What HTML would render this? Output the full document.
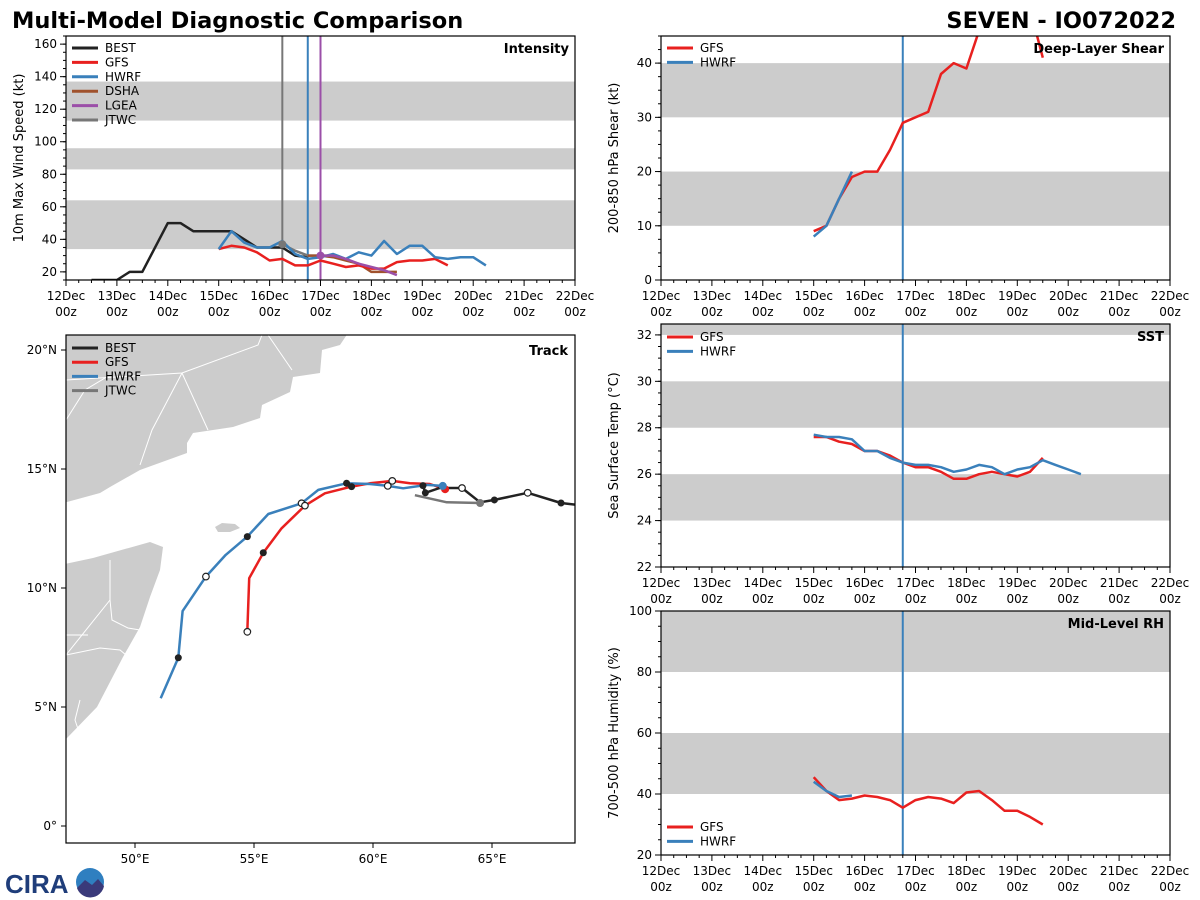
<!DOCTYPE html>
<html><head><meta charset="utf-8"><style>
html,body{margin:0;padding:0;background:#fff;}
svg{display:block;font-family:"DejaVu Sans","Liberation Sans",sans-serif;}
</style></head><body>
<svg id="fig" width="1200" height="900" viewBox="0 0 1200 900" xmlns="http://www.w3.org/2000/svg">
<text x="12" y="28" font-size="22.5" font-weight="bold">Multi-Model Diagnostic Comparison</text>
<text x="1176" y="28" font-size="22.5" font-weight="bold" text-anchor="end">SEVEN - IO072022</text>
<g>
<text x="5" y="893" font-size="26" font-weight="bold" fill="#1f3d7a" font-family="Liberation Sans, sans-serif">CIRA</text>
<circle cx="90" cy="882" r="14" fill="#2f7fc0"/><path d="M77 888 L85 880 L92 885 L98 879 L104 886 A14 14 0 0 1 77 888Z" fill="#3a3a7a"/>
</g>
</svg>
<script>
// ---- Data (days since 12 Dec 00z) ----
const dayTicks=["12Dec","13Dec","14Dec","15Dec","16Dec","17Dec","18Dec","19Dec","20Dec","21Dec","22Dec"];
const intBestT=[0.5,1,1.25,1.5,2,2.25,2.5,3,3.25,3.5,3.75,4.25,4.5,4.75];
const intBestV=[15,15,20,20,50,50,45,45,45,40,35,35,30,29];
const intGfsT=[3,3.25,3.5,3.75,4,4.25,4.5,4.75,5,5.25,5.5,5.75,6,6.25,6.5,6.75,7,7.25,7.5];
const intGfsV=[34,36,35,32,27,28,24,24,27,25,23,24,22,22,26,27,27,28,24];
const intHwrfT=[3,3.25,3.5,3.75,4,4.25,4.5,4.75,5,5.25,5.5,5.75,6,6.25,6.5,6.75,7,7.25,7.5,7.75,8,8.25];
const intHwrfV=[34,45,38,35,35,39,31,28,29,31,28,32,30,39,31,36,36,29,28,29,29,24];
const intDshaT=[4.75,5,5.25,5.5,5.75,6,6.25,6.5];
const intDshaV=[30,30,29,27,25,20,20,20];
const intLgeaT=[5,5.25,5.5,5.75,6,6.25,6.5];
const intLgeaV=[30,30,28,25,23,21,18];
const intJtwcT=[4.25,4.5,4.75,5,5.25];
const intJtwcV=[37,33,30,30,30];
const shGfsT=[3,3.25,3.5,3.75,4,4.25,4.5,4.75,5,5.25,5.5,5.75,6,6.25,6.5,7,7.25,7.5];
const shGfsV=[9,10,15,19,20,20,24,29,30,31,38,40,39,46,52,55,50,41];
const shHwrfT=[3,3.25,3.5,3.75];
const shHwrfV=[8,10,15,20];
const sstGfsT=[3,3.25,3.5,3.75,4,4.25,4.5,4.75,5,5.25,5.5,5.75,6,6.25,6.5,6.75,7,7.25,7.5];
const sstGfsV=[27.6,27.6,27.4,27.3,27.0,27.0,26.8,26.5,26.3,26.3,26.1,25.8,25.8,26.0,26.1,26.0,25.9,26.1,26.7];
const sstHwrfT=[3,3.25,3.5,3.75,4,4.25,4.5,4.75,5,5.25,5.5,5.75,6,6.25,6.5,6.75,7,7.25,7.5,7.75,8,8.25];
const sstHwrfV=[27.7,27.6,27.6,27.5,27.0,27.0,26.7,26.5,26.4,26.4,26.3,26.1,26.2,26.4,26.3,26.0,26.2,26.3,26.6,26.4,26.2,26.0];
const rhGfsT=[3,3.25,3.5,3.75,4,4.25,4.5,4.75,5,5.25,5.5,5.75,6,6.25,6.5,6.75,7,7.25,7.5];
const rhGfsV=[45.5,41,38,38.5,39.5,39,38,35.5,38,39,38.5,37,40.5,41,38,34.5,34.5,32.5,30];
const rhHwrfT=[3,3.25,3.5,3.75];
const rhHwrfV=[44,41,39,39.5];
const trBestLon=[62.1,62.2,62.8,63.74,64.5,65.1,66.5,67.9,68.5];
const trBestLat=[14.3,14.0,14.2,14.2,13.6,13.7,14.0,13.57,13.5];
const trGfsLon=[63.03,62.39,61.55,60.81,59.87,59.10,57.98,57.14,56.16,55.39,54.80,54.72];
const trGfsLat=[14.15,14.37,14.40,14.50,14.40,14.26,13.98,13.46,12.51,11.48,10.41,8.16];
const trHwrfLon=[62.93,62.26,61.27,60.62,59.87,58.89,57.70,57.0,55.60,54.72,53.81,52.98,52.0,51.82,51.08];
const trHwrfLat=[14.29,14.33,14.19,14.29,14.37,14.40,14.12,13.56,13.11,12.16,11.39,10.48,9.03,7.07,5.37];
const trJtwcLon=[61.76,63.1,64.5];
const trJtwcLat=[13.9,13.6,13.57];
const openMarksLon=[60.62,57.0,52.98,60.81,57.14,54.72,63.74,66.5];
const openMarksLat=[14.29,13.56,10.48,14.50,13.46,8.16,14.2,14.0];
const fillMarksLon=[58.89,54.72,51.82,62.1,59.10,55.39,62.2,65.1,67.9];
const fillMarksLat=[14.40,12.16,7.07,14.3,14.26,11.48,14.0,13.7,13.57];

const C={BEST:"#222",GFS:"#e8201f",HWRF:"#3a80bb",DSHA:"#a0522d",LGEA:"#9b4fa8",JTWC:"#777"};
const NS="http://www.w3.org/2000/svg";
const svg=document.getElementById('fig');
function mk(tag,attrs,parent){const e=document.createElementNS(NS,tag);for(const k in attrs)e.setAttribute(k,attrs[k]);(parent||svg).appendChild(e);return e;}
function txt(x,y,s,attrs,parent){const e=mk('text',Object.assign({x:x,y:y,'font-size':12},attrs||{}),parent);e.textContent=s;return e;}

function panel(name,x0,y0,x1,y1,ymin,ymax,bands,yticks,yminor,ylabel,title,clipId){
  const g=mk('g',{});
  
  
  const sx=d=>x0+d*(x1-x0)/10, sy=v=>y1-(v-ymin)*(y1-y0)/(ymax-ymin);
  mk('rect',{x:x0,y:y0,width:x1-x0,height:y1-y0,fill:'#fff'},g);
  const cp=mk('clipPath',{id:clipId},g);mk('rect',{x:x0,y:y0,width:x1-x0,height:y1-y0},cp);
  const plot=mk('g',{'clip-path':'url(#'+clipId+')'},g);
  bands.forEach(b=>{const r=mk('rect',{x:x0,y:sy(Math.min(b[1],ymax)),width:x1-x0,height:sy(b[0])-sy(Math.min(b[1],ymax)),fill:'#cccccc'},plot);
    
    });
  for(let i=0;i<=40;i++){const x=x0+i*(x1-x0)/40;mk('line',{x1:x,x2:x,y1:y1,y2:y1+(i%4==0?6:3),stroke:'#000','stroke-width':1},g);}
  dayTicks.forEach((d,i)=>{const x=sx(i);
    const t=txt(x,y1+20,d,{'text-anchor':'middle'},g);
    
    
    txt(x,y1+36,'00z',{'text-anchor':'middle'},g);});
  for(let v=ymin;v<=ymax+0.001;v+=yminor){const y=sy(v);if(y<y0-0.5)continue;mk('line',{x1:x0,x2:x0-3,y1:y,y2:y,stroke:'#000'},g);}
  yticks.forEach(v=>{const y=sy(v);mk('line',{x1:x0,x2:x0-6,y1:y,y2:y,stroke:'#000'},g);
    const t=txt(x0-9,y+4,String(v),{'text-anchor':'end'},g);
    
    });
  const yl=txt(0,0,ylabel,{'text-anchor':'middle','font-size':13,transform:`translate(${x0-43},${(y0+y1)/2}) rotate(-90)`},g);
  
  
  const tt=txt(x1-6,y0+17,title,{'text-anchor':'end','font-size':13,'font-weight':'bold'},g);
  
  
  return {g,plot,sx,sy,x0,y0,x1,y1};
}
function series(P,T,V,color,name){
  const pts=T.map((t,i)=>P.sx(t).toFixed(1)+','+P.sy(V[i]).toFixed(1)).join(' ');
  const l=mk('polyline',{points:pts,fill:'none',stroke:color,'stroke-width':2.5,'stroke-linejoin':'round'},P.plot);
  
  
}
function vline(P,d,color,name){const x=P.sx(d);const l=mk('line',{x1:x,x2:x,y1:P.y0,y2:P.y1,stroke:color,'stroke-width':2},P.plot);
  
  }
function legend(P,x,y,names){
  const g=mk('g',{},P.g);
  
  
  names.forEach((n,i)=>{const yy=y+i*14.4;mk('line',{x1:x,x2:x+26,y1:yy,y2:yy,stroke:C[n],'stroke-width':3},g);
    const t=txt(x+33,yy+4,n,{'font-size':12},g);
    
    });
}
function frame(P){mk('rect',{x:P.x0,y:P.y0,width:P.x1-P.x0,height:P.y1-P.y0,fill:'none',stroke:'#000','stroke-width':1.2},P.g);}

const PI=panel('intensity-panel',66,36,575,280,15,165,[[34,64],[83,96],[113,137]],[20,40,60,80,100,120,140,160],5,'10m Max Wind Speed (kt)','Intensity','ci');
vline(PI,4.25,'#777','jtwc-init-line');vline(PI,4.75,'#3a80bb','hwrf-init-line');vline(PI,5.0,'#9b4fa8','lgea-init-line');
series(PI,intBestT,intBestV,C.BEST,'best-intensity');
series(PI,intJtwcT,intJtwcV,C.JTWC,'jtwc-intensity');
series(PI,intDshaT,intDshaV,C.DSHA,'dsha-intensity');
series(PI,intGfsT,intGfsV,C.GFS,'gfs-intensity');
series(PI,intHwrfT,intHwrfV,C.HWRF,'hwrf-intensity');
series(PI,intLgeaT,intLgeaV,C.LGEA,'lgea-intensity');
mk('circle',{cx:PI.sx(4.25),cy:PI.sy(37),r:4,fill:'#777'},PI.plot);
mk('circle',{cx:PI.sx(5),cy:PI.sy(30),r:4,fill:C.LGEA},PI.plot);
legend(PI,72,48,['BEST','GFS','HWRF','DSHA','LGEA','JTWC']);frame(PI);

const PS=panel('shear-panel',661,36,1170,280,0,45,[[10,20],[30,40]],[0,10,20,30,40],2.5,'200-850 hPa Shear (kt)','Deep-Layer Shear','cs');
vline(PS,4.75,'#3a80bb','init-line');
series(PS,shGfsT,shGfsV,C.GFS,'gfs-shear');series(PS,shHwrfT,shHwrfV,C.HWRF,'hwrf-shear');
legend(PS,667,48,['GFS','HWRF']);frame(PS);

const PT=panel('sst-panel',661,324,1170,567,22,32.47,[[24,26],[28,30],[32,33]],[22,24,26,28,30,32],0.5,'Sea Surface Temp (°C)','SST','ct');
vline(PT,4.75,'#3a80bb','init-line');
series(PT,sstGfsT,sstGfsV,C.GFS,'gfs-sst');series(PT,sstHwrfT,sstHwrfV,C.HWRF,'hwrf-sst');
legend(PT,667,337,['GFS','HWRF']);frame(PT);

const PR=panel('rh-panel',661,611,1170,855,20,100,[[40,60],[80,100]],[20,40,60,80,100],5,'700-500 hPa Humidity (%)','Mid-Level RH','cr');
vline(PR,4.75,'#3a80bb','init-line');
series(PR,rhGfsT,rhGfsV,C.GFS,'gfs-rh');series(PR,rhHwrfT,rhHwrfV,C.HWRF,'hwrf-rh');
legend(PR,667,827,['GFS','HWRF']);frame(PR);

(function(){
  const x0=66,y0=335,x1=575,y1=843;
  const lx=lon=>135+(lon-50)*23.8, ly=lat=>826-lat*23.8;
  const g=mk('g',{});
  
  
  const cp=mk('clipPath',{id:'cm'},g);mk('rect',{x:x0,y:y0,width:x1-x0,height:y1-y0},cp);
  const p=mk('g',{'clip-path':'url(#cm)'},g);
  const land=[
   "M60,330 L350,330 L340,345 L322,350 L320,373 L293,377 L290,392 L262,405 L260,418 L233,427 L193,433 L187,443 L187,453 L140,470 L110,487 L100,493 L67,502 L60,502 Z",
   "M60,565 L93,558 L150,542 L163,547 L160,570 L150,597 L140,627 L123,657 L97,707 L67,738 L60,745 Z",
   "M215,527 L222,523 L235,524 L240,528 L230,532 L218,532 Z"];
  land.forEach(d=>{const e=mk('path',{d:d,fill:'#cccccc',stroke:'none'},p);
    
    });
  ["M66,380 L182,373 L258,345 L262,335","M182,373 L208,430","M182,373 L152,430 L140,465","M268,335 L292,370","M66,420 L85,390 L105,378","M66,635 L88,635","M66,655 L110,600 L110,560","M66,655 L100,648 L120,650 L132,660","M110,600 L112,620 L128,628 L140,630","M80,700 L75,720 L80,735"].forEach(d=>mk('path',{d:d,fill:'none',stroke:'#fff','stroke-width':1},p));
  function trk(LON,LAT,color,name){const pts=LON.map((l,i)=>lx(l).toFixed(1)+','+ly(LAT[i]).toFixed(1)).join(' ');
    const e=mk('polyline',{points:pts,fill:'none',stroke:color,'stroke-width':2.5,'stroke-linejoin':'round'},p);
    
    }
  trk(trJtwcLon,trJtwcLat,C.JTWC,'jtwc-track');
  trk(trGfsLon,trGfsLat,C.GFS,'gfs-track');
  trk(trHwrfLon,trHwrfLat,C.HWRF,'hwrf-track');
  trk(trBestLon,trBestLat,C.BEST,'best-track');
  mk('circle',{cx:lx(trGfsLon[0]),cy:ly(trGfsLat[0]),r:4,fill:C.GFS},p);
  mk('circle',{cx:lx(trHwrfLon[0]),cy:ly(trHwrfLat[0]),r:4,fill:C.HWRF},p);
  mk('circle',{cx:lx(trJtwcLon[2]),cy:ly(trJtwcLat[2]),r:4,fill:C.JTWC},p);
  fillMarksLon.forEach((l,i)=>mk('circle',{cx:lx(l),cy:ly(fillMarksLat[i]),r:3.5,fill:'#222'},p));
  openMarksLon.forEach((l,i)=>mk('circle',{cx:lx(l),cy:ly(openMarksLat[i]),r:3.3,fill:'#fff',stroke:'#222','stroke-width':1.2},p));
  mk('rect',{x:x0,y:y0,width:x1-x0,height:y1-y0,fill:'none',stroke:'#000','stroke-width':1.2},g);
  [50,55,60,65].forEach(lon=>{const x=lx(lon);mk('line',{x1:x,x2:x,y1:y1,y2:y1+5,stroke:'#000'},g);
    const t=txt(x,y1+20,lon+'°E',{'text-anchor':'middle'},g);
    
    });
  [0,5,10,15,20].forEach(lat=>{const y=ly(lat);mk('line',{x1:x0,x2:x0-5,y1:y,y2:y,stroke:'#000'},g);
    const t=txt(x0-9,y+4,lat===0?'0°':lat+'°N',{'text-anchor':'end'},g);
    
    });
  const tt=txt(568,355,'Track',{'text-anchor':'end','font-size':13,'font-weight':'bold'},g);
  
  
  const lg=mk('g',{},g);
  
  
  ['BEST','GFS','HWRF','JTWC'].forEach((n,i)=>{const yy=348+i*14.2;mk('line',{x1:72,x2:98,y1:yy,y2:yy,stroke:C[n],'stroke-width':3},lg);
    const t=txt(105,yy+4,n,{},lg);
    
    });
})();
</script>
</body></html>
